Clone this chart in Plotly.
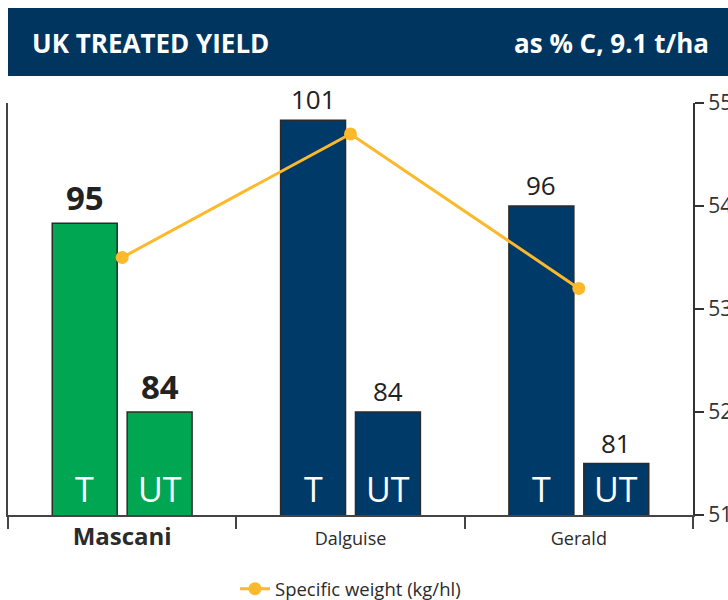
import plotly.graph_objects as go

categories = ["Mascani", "Dalguise", "Gerald"]
treated = [95, 101, 96]
untreated = [84, 84, 81]
specific_weight = [53.5, 54.7, 53.2]
bar_labels = ["T", "UT"]
right_ticks = [51, 52, 53, 54, 55]
title_left = "UK TREATED YIELD"
title_right = "as % C, 9.1 t/ha"
legend_name = "Specific weight (kg/hl)"

GREEN = "#00A651"
NAVY = "#003A69"
HEADER = "#00355F"
ORANGE = "#FDB92C"
DARK = "#2B2B2B"
FONT = "Open Sans"

colors = [GREEN if c == "Mascani" else NAVY for c in categories]

fig = go.Figure()
fig.add_trace(go.Bar(x=categories, y=treated, name="T", marker=dict(color=colors, line=dict(color=DARK, width=1.5)),
                     showlegend=False, hoverinfo="skip"))
fig.add_trace(go.Bar(x=categories, y=untreated, name="UT", marker=dict(color=colors, line=dict(color=DARK, width=1.5)),
                     showlegend=False, hoverinfo="skip"))
fig.add_trace(go.Scatter(x=categories, y=specific_weight, yaxis="y2", name=legend_name, mode="lines+markers",
                         line=dict(color=ORANGE, width=3), marker=dict(color=ORANGE, size=13)))

ymin, ymax = 78, 102
annotations = []
for i, c in enumerate(categories):
    bold = c == "Mascani"
    for j, vals in enumerate([treated, untreated]):
        off = -37.5 if j == 0 else 37.5
        v = vals[i]
        annotations.append(dict(x=i, y=v, xref="x", yref="y", xshift=off, yshift=1, yanchor="bottom",
                                text=f"<b>{v}</b>" if bold else str(v), showarrow=False,
                                font=dict(family=FONT, size=33 if bold else 26, color="#222222")))
        annotations.append(dict(x=i, y=ymin, xref="x", yref="y", xshift=off, yshift=1, yanchor="bottom",
                                text=bar_labels[j], showarrow=False,
                                font=dict(family=FONT, size=34, color="white")))

PW, PH = 685, 412
annotations.append(dict(x=(30 - 8) / PW, y=1 + (103 - 43) / PH, xref="paper", yref="paper",
                        xanchor="left", yanchor="middle", text=f"<b>{title_left}</b>", showarrow=False,
                        font=dict(family=FONT, size=26, color="white")))
annotations.append(dict(x=(711 - 8) / PW, y=1 + (103 - 43) / PH, xref="paper", yref="paper",
                        xanchor="right", yanchor="middle", text=f"<b>{title_right}</b>", showarrow=False,
                        font=dict(family=FONT, size=26, color="white")))

ticktext = [f"<span style='font-size:24px'><b>{c}</b></span>" if c == "Mascani" else c for c in categories]

fig.update_layout(
    width=728, height=600,
    margin=dict(l=8, r=35, t=103, b=85, autoexpand=False),
    paper_bgcolor="white", plot_bgcolor="white",
    barmode="group", bargap=0.344, bargroupgap=0.133,
    font=dict(family=FONT, color=DARK),
    shapes=[dict(type="rect", xref="paper", yref="paper", x0=0, x1=(728 - 8) / PW,
                 y0=1 + (103 - 76) / PH, y1=1 + (103 - 8) / PH, fillcolor=HEADER, line=dict(width=0), layer="below")],
    annotations=annotations,
    xaxis=dict(type="category", range=[-0.5, 2.5], showline=True, linecolor="#444444", linewidth=2,
               ticks="outside", tickson="boundaries", ticklen=12, tickwidth=1.5, tickcolor="#444444",
               tickvals=categories, ticktext=ticktext, tickfont=dict(family=FONT, size=18, color=DARK),
               ticklabelstandoff=6,
               showgrid=False, zeroline=False, automargin=False),
    yaxis=dict(range=[ymin, ymax], showline=True, linecolor="#444444", linewidth=2, showticklabels=False,
               ticks="", showgrid=False, zeroline=False, automargin=False),
    yaxis2=dict(range=[51, 55], overlaying="y", side="right", showline=True, linecolor="#333333", linewidth=2,
                ticks="outside", ticklen=9, tickwidth=1.5, tickcolor="#333333", tickvals=right_ticks,
                tickfont=dict(family=FONT, size=21, color="#333333"), showgrid=False, zeroline=False,
                automargin=False),
    legend=dict(orientation="h", x=0.5, xanchor="center", y=-0.18, yanchor="middle",
                font=dict(family=FONT, size=18.5, color=DARK)),
)

fig.write_html("out.html")
